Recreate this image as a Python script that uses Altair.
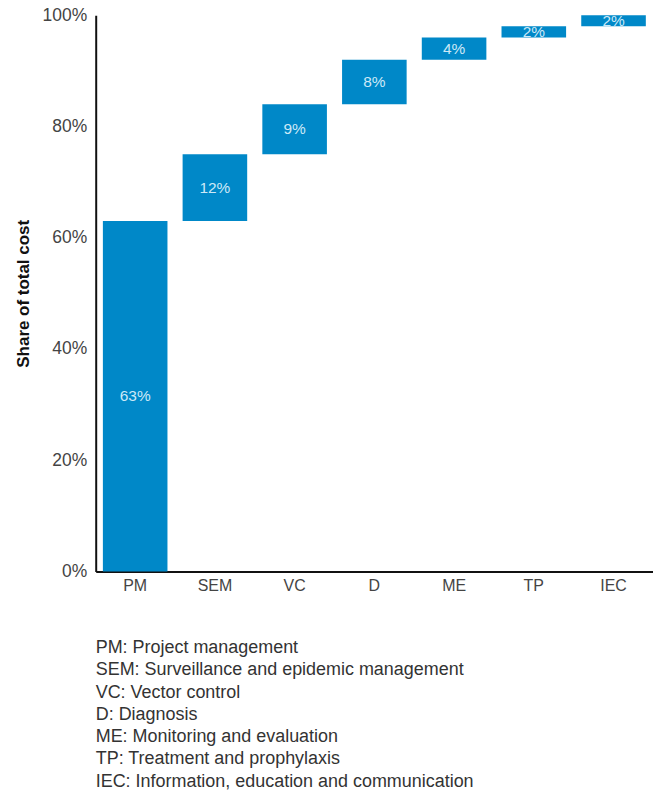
import altair as alt
import pandas as pd

categories = ["PM", "SEM", "VC", "D", "ME", "TP", "IEC"]
shares = [63, 12, 9, 8, 4, 2, 2]
legend_lines = [
    "PM: Project management",
    "SEM: Surveillance and epidemic management",
    "VC: Vector control",
    "D: Diagnosis",
    "ME: Monitoring and evaluation",
    "TP: Treatment and prophylaxis",
    "IEC: Information, education and communication",
]

starts, ends = [], []
acc = 0
for v in shares:
    starts.append(acc)
    acc += v
    ends.append(acc)

df = pd.DataFrame({
    "cat": categories,
    "start": starts,
    "end": ends,
    "mid": [(s + e) / 2 for s, e in zip(starts, ends)],
    "label": [f"{v}%" for v in shares],
})

FONT = "Liberation Sans"
BLUE = "#0088C8"

x = alt.X("cat:N", sort=categories, title=None,
          scale=alt.Scale(paddingInner=0.19, paddingOuter=0.09),
          axis=alt.Axis(labelAngle=0, ticks=False, domainColor="#111", domainWidth=2,
                        labelColor="#444", labelFontSize=16, labelPadding=6, labelFont=FONT))

bars = alt.Chart(df).mark_bar(color=BLUE).encode(
    x=x,
    y=alt.Y("start:Q", title="Share of total cost",
            scale=alt.Scale(domain=[0, 100], nice=False),
            axis=alt.Axis(values=[0, 20, 40, 60, 80, 100], labelExpr="datum.value + '%'",
                          ticks=False, grid=False, domainColor="#111", domainWidth=2,
                          labelColor="#444", labelFontSize=17.5, labelPadding=9, labelFont=FONT,
                          titleFont=FONT, titleFontSize=17, titleFontWeight="bold",
                          titleColor="#111", titlePadding=10)),
    y2="end:Q",
)

labels = alt.Chart(df).mark_text(color="#cde9f7", fontSize=15.5, font=FONT, baseline="middle").encode(
    x=alt.X("cat:N", sort=categories),
    y=alt.Y("mid:Q"),
    text="label:N",
)

chart = alt.layer(bars, labels).properties(
    width=559,
    height=558,
    autosize="none",
    padding={"left": 96, "top": 14, "right": 0, "bottom": 219},
    background="white",
    title=alt.TitleParams(
        text=legend_lines,
        orient="bottom",
        anchor="start",
        frame="group",
        font=FONT,
        fontSize=18,
        fontWeight="normal",
        color="#333",
        lineHeight=22.3,
        offset=46,
        align="left",
    ),
).configure_view(stroke=None)

chart.save("out.html", embed_options={"renderer": "svg", "actions": False})
